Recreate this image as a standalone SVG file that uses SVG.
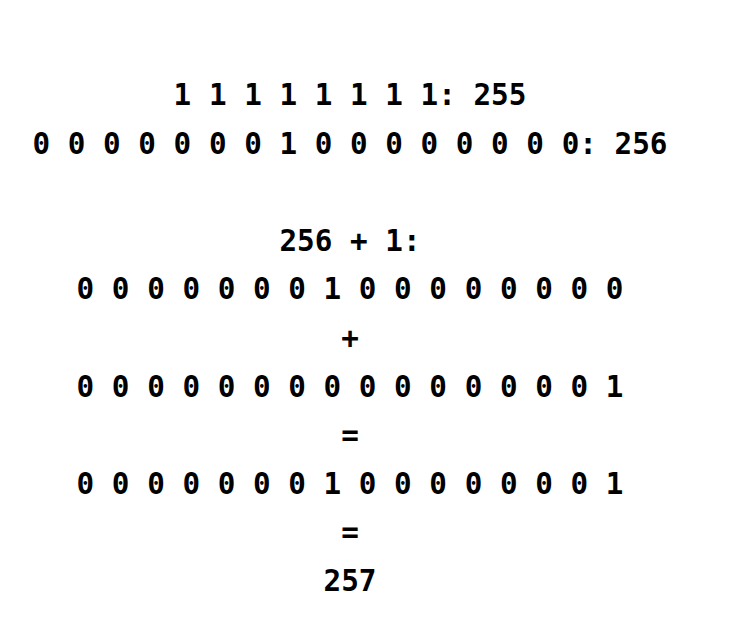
<svg xmlns="http://www.w3.org/2000/svg" width="730" height="643" viewBox="0 0 730 643">
<style>
text{font-family:"DejaVu Sans Mono","Liberation Mono",monospace;font-weight:bold;font-size:29.3px;fill:#000;text-anchor:middle}
</style>
<rect width="730" height="643" fill="#fff"/>
<g id="lines">
<text x="350" y="105">1 1 1 1 1 1 1 1: 255</text>
<text x="350" y="153.6">0 0 0 0 0 0 0 1 0 0 0 0 0 0 0 0: 256</text>
<text x="350" y="250.8">256 + 1:</text>
<text x="350" y="299.4">0 0 0 0 0 0 0 1 0 0 0 0 0 0 0 0</text>
<text x="350" y="348">+</text>
<text x="350" y="396.6">0 0 0 0 0 0 0 0 0 0 0 0 0 0 0 1</text>
<text x="350" y="445.2">=</text>
<text x="350" y="493.8">0 0 0 0 0 0 0 1 0 0 0 0 0 0 0 1</text>
<text x="350" y="542.4">=</text>
<text x="350" y="591">257</text>
</g>
</svg>
